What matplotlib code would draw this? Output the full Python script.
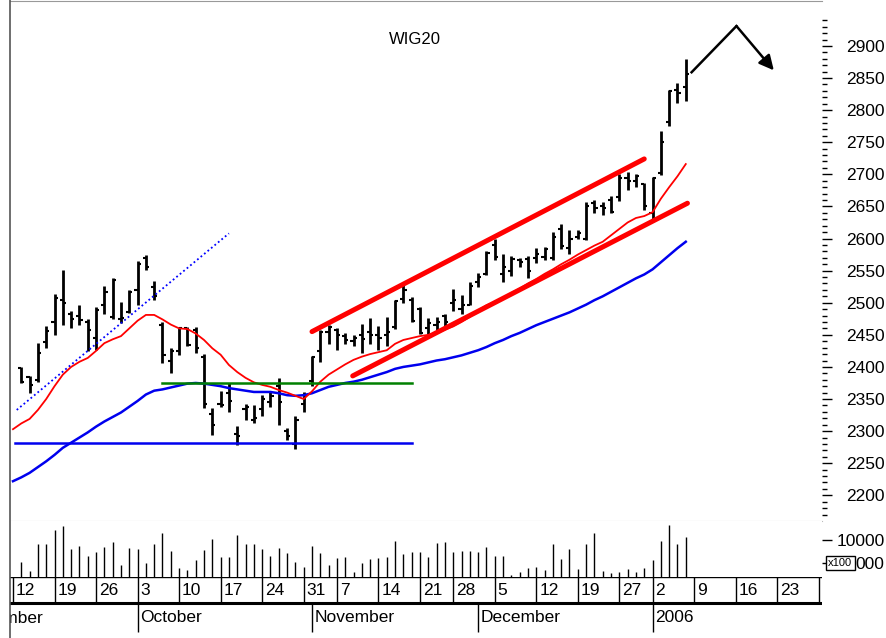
import numpy as np
import matplotlib
matplotlib.use("Agg")
import matplotlib.pyplot as plt
from matplotlib.ticker import FixedLocator
from matplotlib.lines import Line2D

plt.rcParams['font.family'] = ['Liberation Sans Narrow', 'Liberation Sans', 'DejaVu Sans']

# daily OHLC for trading days 1..81 (day 0 = 12 Sep 2005)
opens = [2398, 2385, 2379, 2439, 2470, 2505, 2482, 2480, 2470, 2445,
         2497, 2477, 2474, 2486, 2520, 2570, 2525, 2465, 2410, 2425,
         2460, 2458, 2415, 2326, 2342, 2360, 2295, 2335, 2318, 2335,
         2345, 2370, 2300, 2280, 2343, 2378, 2425, 2455, 2458, 2448,
         2440, 2450, 2455, 2450, 2450, 2462, 2506, 2505, 2490, 2461,
         2465, 2480, 2500, 2490, 2497, 2532, 2545, 2590, 2545, 2549,
         2566, 2568, 2570, 2571, 2570, 2615, 2585, 2602, 2600, 2655,
         2650, 2660, 2665, 2695, 2690, 2685, 2640, 2702, 2782, 2831, 2836]
highs = [2400, 2386, 2437, 2464, 2513, 2551, 2487, 2496, 2474, 2494,
         2526, 2539, 2501, 2520, 2565, 2574, 2534, 2470, 2429, 2462,
         2462, 2462, 2420, 2336, 2363, 2375, 2308, 2343, 2341, 2357,
         2361, 2382, 2305, 2323, 2361, 2417, 2457, 2465, 2460, 2453,
         2450, 2467, 2476, 2464, 2477, 2504, 2527, 2509, 2493, 2476,
         2478, 2483, 2522, 2512, 2532, 2547, 2581, 2600, 2576, 2573,
         2570, 2573, 2586, 2587, 2610, 2622, 2613, 2613, 2657, 2660,
         2657, 2666, 2700, 2704, 2701, 2686, 2696, 2768, 2831, 2842, 2880]
lows = [2375, 2359, 2377, 2430, 2449, 2465, 2460, 2465, 2425, 2426,
        2482, 2474, 2469, 2484, 2496, 2551, 2504, 2406, 2390, 2418,
        2432, 2421, 2336, 2294, 2338, 2330, 2279, 2318, 2312, 2323,
        2338, 2310, 2286, 2272, 2330, 2370, 2408, 2435, 2427, 2436,
        2432, 2421, 2436, 2426, 2432, 2459, 2500, 2470, 2451, 2450,
        2455, 2463, 2487, 2482, 2496, 2525, 2543, 2567, 2533, 2541,
        2555, 2539, 2562, 2566, 2566, 2584, 2576, 2600, 2597, 2639,
        2636, 2639, 2658, 2675, 2680, 2644, 2629, 2699, 2775, 2811, 2814]
closes = [2376, 2372, 2422, 2456, 2507, 2500, 2475, 2473, 2457, 2488,
          2517, 2535, 2476, 2517, 2560, 2556, 2511, 2418, 2425, 2460,
          2434, 2429, 2343, 2310, 2340, 2347, 2293, 2338, 2320, 2350,
          2355, 2345, 2292, 2318, 2357, 2415, 2455, 2462, 2450, 2442,
          2445, 2443, 2450, 2445, 2455, 2502, 2520, 2472, 2453, 2468,
          2470, 2470, 2505, 2497, 2526, 2540, 2578, 2572, 2555, 2568,
          2563, 2550, 2576, 2584, 2603, 2588, 2600, 2608, 2650, 2648,
          2647, 2642, 2695, 2690, 2697, 2650, 2694, 2750, 2830, 2826, 2857]
volume = [5289, 3260, 9130, 9130, 12174, 13043, 7970, 8768, 6521, 7463,
          8405, 9492, 4564, 8188, 7970, 4927, 9130, 11449, 7608, 3985,
          3477, 5652, 7753, 10217, 6376, 6376, 11087, 9058, 9130, 7970,
          6521, 8333, 7246, 5289, 4057, 8768, 7246, 4564, 6159, 6376,
          2970, 4927, 5797, 6159, 6376, 9855, 6956, 7319, 7319, 6232,
          9275, 9637, 7463, 7681, 7681, 7319, 8405, 6521, 6521, 2391,
          2970, 3985, 4057, 3477, 9130, 5797, 7970, 3695, 9130, 11449,
          3332, 2753, 2970, 3622, 3115, 3840, 5652, 9855, 13261, 9130, 10580]

# moving averages, days 0..81
ma_red = [2303, 2312, 2319, 2333, 2350, 2370, 2388, 2400, 2408, 2414,
          2425, 2437, 2443, 2448, 2460, 2472, 2481, 2481, 2474, 2466,
          2460, 2459, 2452, 2442, 2429, 2419, 2403, 2392, 2383, 2376,
          2372, 2369, 2364, 2360, 2355, 2350, 2362, 2377, 2388, 2396,
          2404, 2411, 2416, 2420, 2423, 2426, 2436, 2442, 2445, 2448,
          2450, 2453, 2458, 2463, 2470, 2478, 2488, 2496, 2501, 2508,
          2515, 2522, 2530, 2537, 2545, 2552, 2560, 2567, 2575, 2582,
          2589, 2595, 2605, 2615, 2625, 2632, 2635, 2641, 2662, 2680, 2697, 2716]
ma_blue = [2222, 2228, 2235, 2244, 2253, 2263, 2274, 2282, 2290, 2298,
           2307, 2315, 2322, 2329, 2338, 2347, 2357, 2363, 2365, 2368,
           2371, 2374, 2375, 2374, 2372, 2370, 2367, 2365, 2363, 2361,
           2361, 2361, 2359, 2356, 2355, 2356, 2359, 2364, 2369, 2372,
           2375, 2377, 2380, 2384, 2388, 2392, 2397, 2400, 2402, 2404,
           2407, 2410, 2412, 2415, 2418, 2422, 2426, 2431, 2437, 2442,
           2448, 2453, 2459, 2465, 2470, 2475, 2480, 2485, 2491, 2497,
           2504, 2510, 2517, 2524, 2531, 2538, 2544, 2552, 2563, 2574, 2585, 2595]

# drawn lines (day, price)
upper_channel_x = [36, 76]
upper_channel_y = [2455, 2724]
lower_channel_x = [40.9, 81.2]
lower_channel_y = [2386, 2655]
dotted_x = [0.45, 26]
dotted_y = [2333, 2608]
support_level = 2282
support_x = [0.2, 48]
green_level = 2375
green_x = [18, 48]
arrow_x = [81.7, 87.1, 91.6]
arrow_y = [2859, 2931, 2862]

week_days = [0, 5, 10, 15, 20, 25, 30, 35, 39, 44, 49, 53, 58, 63, 68, 73, 77, 82, 87, 92, 97]
week_labels = ['12', '19', '26', '3', '10', '17', '24', '31', '7', '14', '21',
               '28', '5', '12', '19', '27', '2', '9', '16', '23', '30']
month_days = [-7, 15, 36, 56, 77]
month_labels = ['September', 'October', 'November', 'December', '2006']

price_ticks = list(range(2200, 2901, 50))
price_minor = list(range(2170, 2950, 10))

W, H = 886, 638
fig = plt.figure(figsize=(W / 100, H / 100), dpi=100)
left, right = 10 / W, 822 / W
ax = fig.add_axes([left, (H - 521) / H, right - left, 520 / H])
axv = fig.add_axes([left, (H - 577) / H, right - left, 56 / H], sharex=ax)
axd = fig.add_axes([left, 0, right - left, 61 / H], sharex=ax)

day = np.arange(1, len(opens) + 1)
ma_day = np.arange(0, len(ma_red))
tick = 0.38

# price bars
ax.vlines(day, lows, highs, color='black', lw=2)
ax.hlines(opens, day - tick, day, color='black', lw=1.5)
ax.hlines(closes, day, day + tick, color='black', lw=1.5)

ax.plot(ma_day, ma_blue, color='#0000ee', lw=1.8)
ax.plot(ma_day, ma_red, color='#ff0000', lw=1.3)
ax.plot(dotted_x, dotted_y, color='#0000ff', lw=1.3, ls=(0, (1, 1.5)))
ax.plot(support_x, [support_level] * 2, color='#0000ee', lw=1.8)
ax.plot(green_x, [green_level] * 2, color='#008000', lw=1.8)
ax.plot(upper_channel_x, upper_channel_y, color='#ff0000', lw=3.6, solid_capstyle='round')
ax.plot(lower_channel_x, lower_channel_y, color='#ff0000', lw=3.6, solid_capstyle='round')

ax.plot(arrow_x[:2], arrow_y[:2], color='black', lw=1.8)
ax.annotate('', xy=(arrow_x[2], arrow_y[2]), xytext=(arrow_x[1], arrow_y[1]),
            arrowprops=dict(arrowstyle='-|>', color='black', lw=1.8, mutation_scale=22,
                            shrinkA=0, shrinkB=0))

ax.text(0.499, 0.925, 'WIG20', transform=ax.transAxes, ha='center', va='center', fontsize=12)

ax.set_xlim(-0.36, 97.4)
ax.set_ylim(2160, 2970)
ax.yaxis.tick_right()
ax.yaxis.set_major_locator(FixedLocator(price_ticks))
ax.yaxis.set_minor_locator(FixedLocator(price_minor))
ax.tick_params(axis='y', which='major', length=7, width=1, pad=38, labelsize=12.5)
ax.tick_params(axis='y', which='minor', length=3.5, width=1)
for lbl in ax.get_yticklabels():
    lbl.set_ha('right')
ax.tick_params(axis='x', which='both', bottom=False, labelbottom=False)
for s in ['right', 'left']:
    ax.spines[s].set_visible(False)
ax.spines['top'].set_color('#999999')
ax.spines['bottom'].set_color('#bbbbbb')

# volume (in hundreds; the lower label is partly covered by the x100 box)
vol_bottom = 1956
axv.vlines(day, vol_bottom, volume, color='black', lw=1)
axv.set_ylim(vol_bottom, 14130)
axv.yaxis.tick_right()
axv.set_yticks([5000, 10000])
axv.set_yticklabels(['000', '10000'])
axv.tick_params(axis='y', length=7, width=1, pad=38, labelsize=12.5)
for lbl in axv.get_yticklabels():
    lbl.set_ha('right')
axv.tick_params(axis='x', which='both', bottom=False, labelbottom=False)
for s in axv.spines.values():
    s.set_visible(False)
axv.text(1.0225, 5000, 'x100', transform=axv.get_yaxis_transform(), ha='center', va='center',
         fontsize=8, clip_on=False,
         bbox=dict(boxstyle='square,pad=0.2', fc='white', ec='black', lw=1))

# date rows
axd.set_ylim(61, 0)
axd.axis('off')
axd.axhline(0, color='black', lw=1)
axd.axhline(26, color='black', lw=2.2)
axd.vlines(week_days, 0, 26, color='black', lw=1)
axd.vlines(month_days, 26, 55, color='black', lw=1)
for d, lab in zip(week_days, week_labels):
    axd.text(d + 0.35, 13.5, lab, ha='left', va='center', fontsize=12.5, clip_on=True)
for d, lab in zip(month_days, month_labels):
    axd.text(d + 0.35, 41, lab, ha='left', va='center', fontsize=12.5, clip_on=True)

fig.add_artist(Line2D([left, left], [0, 1], transform=fig.transFigure, color='#555555', lw=1.2))

fig.savefig('out.png', dpi=100)
